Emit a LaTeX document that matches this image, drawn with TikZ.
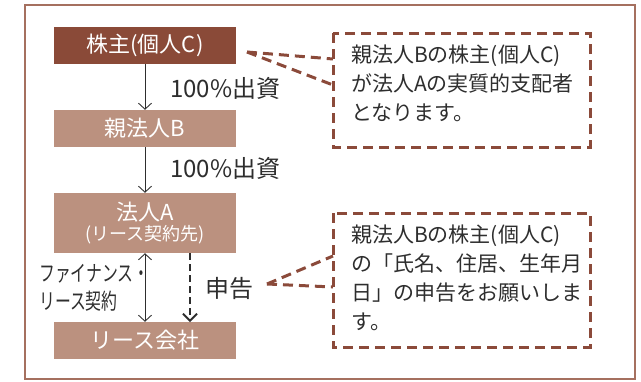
\documentclass[tikz,border=0pt]{standalone}
\usepackage{fontspec}
\setmainfont{Noto Sans CJK JP}
\usetikzlibrary{arrows.meta}
\definecolor{darkbox}{HTML}{8A4A38}
\definecolor{lightbox}{HTML}{BB917F}
\definecolor{framec}{HTML}{A5705F}
\definecolor{dashc}{HTML}{8B4A3A}
\definecolor{txt}{HTML}{2E2E2E}
\tikzset{
  boxnode/.style={minimum width=182pt, inner sep=0pt, text=white, font=\fontsize{22}{24}\selectfont, align=center},
  lbl/.style={text=txt, font=\fontsize{24}{26}\selectfont, inner sep=0pt},
  note/.style={text=txt, font=\fontsize{21}{29}\selectfont, align=left, inner sep=0pt, anchor=north west},
  dashline/.style={draw=dashc, line width=3pt, dash pattern=on 10pt off 6pt},
  flow/.style={draw=txt, line width=0.9pt},
  barb/.style={-{Straight Barb[length=6pt,width=13pt]}},
}
\begin{document}
\begin{tikzpicture}[x=1pt,y=-1pt]
\useasboundingbox (0,0) rectangle (641,381);
\draw[framec, line width=2pt] (25,5) rectangle (635,379);
% boxes
\node[boxnode, fill=darkbox, minimum height=37pt] (c) at (145,45.5) {株主(個人C)};
\node[boxnode, fill=lightbox, minimum height=37pt] (b) at (145,128.5) {親法人B};
\node[boxnode, fill=lightbox, minimum height=60pt] (a) at (145,223) {法人A\\[-4pt]{\fontsize{18}{20}\selectfont (リース契約先)}};
\node[boxnode, fill=lightbox, minimum height=37pt] (l) at (145,340.5) {リース会社};
% labels
\node[lbl, anchor=west] (p1) at (170,88) {100\%出資};
\node[lbl, anchor=west] (p2) at (170,168) {100\%出資};
\node[lbl, anchor=west] (sk) at (205,288) {申告};
\node[text=txt, inner sep=0pt, align=left, anchor=west, font=\fontsize{22}{28}\selectfont] (fl) at (39,288) {\scalebox{0.72}[1]{ファイナンス・}\\\scalebox{0.72}[1]{リース契約}};
% flow arrows
\draw[flow, barb] (c.south) -- (b.north);
\draw[flow, barb] (b.south) -- (a.north);
\draw[flow, {Straight Barb[length=6pt,width=13pt]}-{Straight Barb[length=6pt,width=13pt]}] (a.south) -- (l.north);
\coordinate (ds) at (190,253);
\coordinate (de) at (190,322);
\draw[draw=txt, line width=1.8pt, dash pattern=on 7pt off 4pt, -{Straight Barb[length=7pt,width=14pt]}] (ds) -- (de);
% notes
\node[draw=none, minimum width=257pt, minimum height=114pt, anchor=north west] (n1) at (333,33) {};
\draw[dashline] (333,33) rectangle (590,147);
\node[note] (t1) at (351,45) {親法人Bの株主(個人C)\\が法人Aの実質的支配者\\となります。};
\node[draw=none, minimum width=257pt, minimum height=134pt, anchor=north west] (n2) at (333,213) {};
\draw[dashline] (333,213) rectangle (590,347);
\node[note] (t2) at (351,225) {親法人Bの株主(個人C)\\の「氏名、住居、生年月\\日」の申告をお願いしま\\す。};
% callouts
\coordinate (tip1) at (247,52);
\coordinate (tip2) at (267,284);
\draw[dashline] (tip1) -- (333,59);
\draw[dashline] (tip1) -- (333,85);
\draw[dashline] (tip2) -- (333,256);
\draw[dashline] (tip2) -- (333,287);
\end{tikzpicture}
\end{document}
